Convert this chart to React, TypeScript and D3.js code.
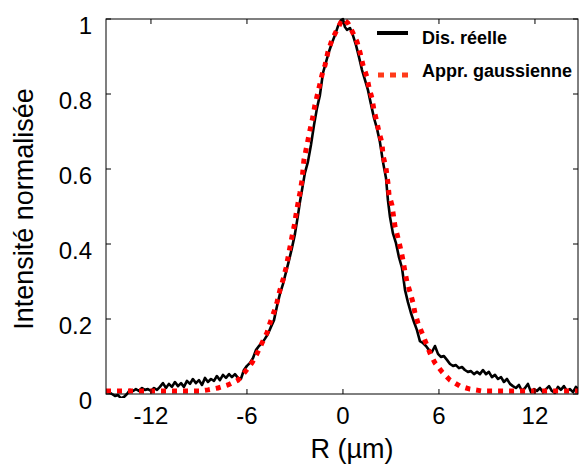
import React from "react";
import * as d3 from "d3";

// Measured distribution (R in µm, normalised intensity)
const measuredR = [
  -14.81, -14.62, -14.44, -14.25, -14.06, -13.88, -13.69, -13.5, -13.31, -13.12,
  -12.94, -12.75, -12.56, -12.38, -12.19, -12.0, -11.81, -11.62, -11.44, -11.25,
  -11.06, -10.88, -10.69, -10.5, -10.31, -10.12, -9.94, -9.75, -9.56, -9.38,
  -9.19, -9.0, -8.81, -8.62, -8.44, -8.25, -8.06, -7.88, -7.69, -7.5,
  -7.31, -7.12, -6.94, -6.75, -6.56, -6.38, -6.19, -6.0, -5.81, -5.62,
  -5.44, -5.25, -5.06, -4.88, -4.69, -4.5, -4.31, -4.12, -3.94, -3.75,
  -3.56, -3.38, -3.19, -3.0, -2.81, -2.69, -2.56, -2.38, -2.19, -2.0,
  -1.81, -1.62, -1.44, -1.25, -1.06, -0.88, -0.69, -0.5, -0.31, -0.12,
  0.0, 0.12, 0.25, 0.44, 0.62, 0.81, 1.0, 1.19, 1.38, 1.56,
  1.75, 1.94, 2.12, 2.31, 2.5, 2.69, 2.81, 2.94, 3.12, 3.31,
  3.5, 3.69, 3.88, 4.06, 4.25, 4.44, 4.62, 4.81, 5.0, 5.19,
  5.38, 5.56, 5.75, 5.94, 6.12, 6.31, 6.5, 6.69, 6.88, 7.06,
  7.25, 7.44, 7.62, 7.81, 8.0, 8.19, 8.38, 8.56, 8.75, 8.94,
  9.12, 9.31, 9.5, 9.69, 9.88, 10.06, 10.25, 10.44, 10.62, 10.81,
  11.0, 11.19, 11.38, 11.56, 11.75, 11.94, 12.12, 12.31, 12.5, 12.69,
  12.88, 13.06, 13.25, 13.44, 13.62, 13.81, 14.0, 14.19, 14.38, 14.56,
  14.69,
];
const measuredI = [
  0.008, 0.005, 0.0, -0.005, -0.003, -0.011, -0.008, 0.0, 0.011, 0.008,
  0.013, 0.008, 0.016, 0.011, 0.013, 0.008, 0.016, 0.011, 0.019, 0.029,
  0.016, 0.027, 0.019, 0.032, 0.021, 0.029, 0.019, 0.035, 0.027, 0.04,
  0.029, 0.037, 0.024, 0.043, 0.032, 0.04, 0.035, 0.048, 0.037, 0.051,
  0.043, 0.053, 0.045, 0.053, 0.043, 0.04, 0.064, 0.075, 0.083, 0.096,
  0.117, 0.128, 0.136, 0.147, 0.16, 0.179, 0.197, 0.235, 0.267, 0.293,
  0.325, 0.355, 0.389, 0.427, 0.477, 0.512, 0.544, 0.589, 0.619, 0.664,
  0.717, 0.763, 0.797, 0.856, 0.885, 0.912, 0.936, 0.957, 0.981, 0.997,
  1.0, 0.979, 0.971, 0.976, 0.957, 0.931, 0.899, 0.864, 0.837, 0.811,
  0.773, 0.736, 0.709, 0.672, 0.619, 0.576, 0.517, 0.472, 0.429, 0.403,
  0.365, 0.336, 0.277, 0.245, 0.216, 0.192, 0.171, 0.141, 0.136, 0.128,
  0.117, 0.112, 0.128, 0.107, 0.099, 0.101, 0.091, 0.08, 0.075, 0.077,
  0.069, 0.072, 0.064, 0.059, 0.061, 0.053, 0.059, 0.053, 0.064, 0.053,
  0.059, 0.045, 0.051, 0.04, 0.045, 0.032, 0.04, 0.027, 0.021, 0.016,
  0.024, 0.008, 0.016, 0.027, 0.005, 0.013, 0.008, 0.016, 0.005, 0.013,
  0.021, 0.008, 0.003, 0.019, 0.011, 0.021, 0.008, 0.013, 0.005, 0.019,
  0.013,
];

// Gaussian approximation
const gaussR = [
  -14.81, -8.94, -8.44, -7.81, -7.19, -6.56, -6.12, -5.69, -5.38, -5.06,
  -4.75, -4.56, -4.31, -4.12, -3.94, -3.75, -3.56, -3.44, -3.31, -3.19,
  -3.06, -2.94, -2.81, -2.69, -2.56, -2.44, -2.31, -2.06, -1.88, -1.75,
  -1.56, -1.31, -1.12, -0.94, -0.69, -0.38, -0.12, 0.0, 0.31, 0.62,
  0.88, 1.06, 1.25, 1.5, 1.62, 1.81, 1.94, 2.12, 2.25, 2.44,
  2.5, 2.69, 2.81, 2.88, 3.06, 3.25, 3.44, 3.62, 3.75, 3.88,
  4.0, 4.19, 4.38, 4.5, 4.69, 4.94, 5.19, 5.44, 5.75, 6.19,
  6.69, 7.31, 7.94, 8.69, 14.69,
];
const gaussI = [
  0.008, 0.008, 0.011, 0.016, 0.024, 0.037, 0.059, 0.083, 0.107, 0.136,
  0.163, 0.189, 0.219, 0.245, 0.277, 0.304, 0.336, 0.363, 0.392, 0.419,
  0.445, 0.477, 0.509, 0.536, 0.57, 0.624, 0.651, 0.704, 0.739, 0.771,
  0.805, 0.851, 0.877, 0.912, 0.944, 0.971, 0.992, 1.0, 0.989, 0.963,
  0.939, 0.912, 0.877, 0.845, 0.819, 0.789, 0.757, 0.725, 0.699, 0.669,
  0.637, 0.603, 0.563, 0.531, 0.504, 0.448, 0.416, 0.384, 0.357, 0.325,
  0.299, 0.272, 0.243, 0.216, 0.189, 0.163, 0.136, 0.109, 0.083, 0.059,
  0.037, 0.021, 0.013, 0.008, 0.008,
];

const xTicks = [-12, -6, 0, 6, 12];
const yTicks = [0, 0.2, 0.4, 0.6, 0.8, 1];
const legendLabels = ["Dis. réelle", "Appr. gaussienne"];

const W = 579;
const H = 466;
const M = { left: 106, right: 578, top: 19, bottom: 394 };
const FONT = "'Liberation Sans', Arial, Helvetica, sans-serif";

export default function App() {
  const x = d3.scaleLinear().domain([-14.81, 14.69]).range([M.left, M.right]);
  const y = d3.scaleLinear().domain([0, 1]).range([M.bottom, M.top]);

  const line = d3
    .line<[number, number]>()
    .x((d) => x(d[0]))
    .y((d) => y(d[1]));

  const measured = measuredR.map((r, i) => [r, measuredI[i]] as [number, number]);
  const gauss = gaussR.map((r, i) => [r, gaussI[i]] as [number, number]);

  const tickLen = 5;

  return (
    <svg
      width={W}
      height={H}
      style={{ position: "absolute", left: 0, top: 0, background: "#fff" }}
      fontFamily={FONT}
    >
      <defs>
        <clipPath id="plotclip">
          <rect x={M.left} y={M.top - 4} width={M.right - M.left} height={M.bottom - M.top + 8} />
        </clipPath>
      </defs>

      <g clipPath="url(#plotclip)">
        <path d={line(measured) ?? ""} fill="none" stroke="#000" strokeWidth={2.6} strokeLinejoin="round" />
        <path
          d={line(gauss) ?? ""}
          fill="none"
          stroke="#ff0000"
          strokeWidth={5}
          strokeDasharray="5 6"
        />
      </g>

      {/* axes box */}
      <rect
        x={M.left}
        y={M.top}
        width={M.right - M.left}
        height={M.bottom - M.top}
        fill="none"
        stroke="#000"
        strokeWidth={1}
      />

      {/* x ticks */}
      {xTicks.map((t) => (
        <g key={"xt" + t}>
          <line x1={x(t)} x2={x(t)} y1={M.bottom} y2={M.bottom - tickLen} stroke="#000" />
          <line x1={x(t)} x2={x(t)} y1={M.top} y2={M.top + tickLen} stroke="#000" />
          <text x={x(t)} y={424} fontSize={24} textAnchor="middle" fill="#000">
            {t < 0 ? "-" + Math.abs(t) : String(t)}
          </text>
        </g>
      ))}

      {/* y ticks */}
      {yTicks.map((t) => (
        <g key={"yt" + t}>
          <line x1={M.left} x2={M.left + tickLen} y1={y(t)} y2={y(t)} stroke="#000" />
          <line x1={M.right} x2={M.right - tickLen} y1={y(t)} y2={y(t)} stroke="#000" />
          <text x={92} y={y(t) + 15} fontSize={24} textAnchor="end" fill="#000">
            {String(t)}
          </text>
        </g>
      ))}

      {/* axis labels */}
      <text x={352} y={458} fontSize={27} textAnchor="middle" fill="#000">
        R (µm)
      </text>
      <text
        transform={`translate(33, 209) rotate(-90)`}
        fontSize={27}
        textAnchor="middle"
        fill="#000"
      >
        Intensité normalisée
      </text>

      {/* legend */}
      <line x1={377} x2={408} y1={33} y2={33} stroke="#000" strokeWidth={4} />
      <text x={422} y={44} fontSize={18} fontWeight="bold" fill="#000">
        {legendLabels[0]}
      </text>
      <line x1={378} x2={408} y1={75} y2={75} stroke="#ff3a1a" strokeWidth={5} strokeDasharray="6 6" />
      <text x={422} y={77} fontSize={18} fontWeight="bold" fill="#000">
        {legendLabels[1]}
      </text>
    </svg>
  );
}
